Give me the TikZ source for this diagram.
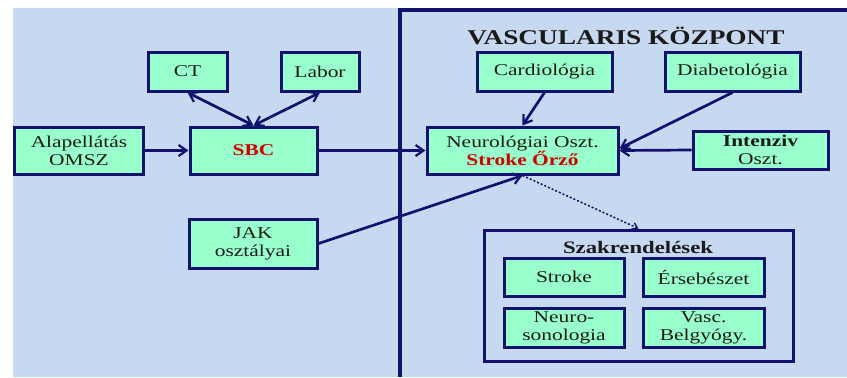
\documentclass[tikz,border=0pt]{standalone}
\usepackage{fontspec}
\setmainfont{Liberation Serif}[FakeStretch=1.3]
\usetikzlibrary{arrows.meta}
\definecolor{bgblue}{HTML}{C6D9F1}
\definecolor{mint}{HTML}{99FFCC}
\definecolor{navy}{RGB}{18,18,110}
\definecolor{txtred}{HTML}{D00000}
\definecolor{txt}{HTML}{1A1A1A}
\begin{document}
\begin{tikzpicture}[x=1bp,y=-1bp,
  box/.style={draw=navy,line width=3bp,fill=mint,inner sep=0pt,align=center,
    text=txt,font=\fontsize{16.5bp}{18bp}\selectfont},
  conn/.style={draw=navy,line width=2.7bp,-{Straight Barb[length=8bp,width=11bp,line width=2.2bp]}},
  bconn/.style={draw=navy,line width=2.7bp,{Straight Barb[length=8bp,width=11bp,line width=2.2bp]}-{Straight Barb[length=8bp,width=11bp,line width=2.2bp]}},
  dconn/.style={draw=navy,line width=1.5bp,dash pattern=on 2bp off 2bp,-{Straight Barb[length=5bp,width=7bp,line width=1.3bp]}}
]
\useasboundingbox (0,0) rectangle (847,377);
\fill[bgblue] (13,8) rectangle (847,377);
\draw[navy,line width=3.2bp] (400,377) -- (400,10) -- (847,10);

\node[font=\fontsize{21bp}{23bp}\selectfont\bfseries,text=txt] (title) at (626,36) {VASCULARIS KÖZPONT};

\node[box,minimum width=79bp,minimum height=39bp] (CT) at (187.5,71.5) {CT};
\node[box,minimum width=78bp,minimum height=39bp] (Labor) at (320,71.5) {Labor};
\node[box,minimum width=128bp,minimum height=47bp] (Alap) at (79,150.5) {Alapellátás\\OMSZ};
\node[box,minimum width=127bp,minimum height=47bp,text=txtred,font=\fontsize{16.5bp}{18bp}\selectfont\bfseries] (SBC) at (253.5,150.5) {SBC};
\node[box,minimum width=128bp,minimum height=49bp] (JAK) at (253,243.5) {JAK\\osztályai};
\node[box,minimum width=135bp,minimum height=39bp] (Cardio) at (544.5,71.5) {Cardiológia};
\node[box,minimum width=135bp,minimum height=39bp] (Diab) at (732.5,71.5) {Diabetológia};
\node[box,minimum width=191bp,minimum height=47bp] (Neuro) at (522.5,150.5) {Neurológiai Oszt.\\\textcolor{txtred}{\bfseries Stroke Őrző}};
\node[box,minimum width=135bp,minimum height=38bp] (Int) at (760.5,150) {\bfseries Intenziv\\Oszt.};

\node[draw=navy,line width=3bp,minimum width=309bp,minimum height=131bp,inner sep=0pt] (Szak) at (638.5,295.5) {};
\node[font=\fontsize{17.5bp}{19bp}\selectfont\bfseries,text=txt] (SzakT) at (638,247) {Szakrendelések};
\node[box,minimum width=120bp,minimum height=38bp] (Stroke) at (564,277) {Stroke};
\node[box,minimum width=121bp,minimum height=38bp] (Ers) at (703.5,277) {Érsebészet};
\node[box,minimum width=120bp,minimum height=39bp] (Sono) at (564,327.5) {Neuro-\\sonologia};
\node[box,minimum width=121bp,minimum height=39bp] (Vasc) at (703.5,327.5) {Vasc.\\Belgyógy.};

\draw[bconn] (CT.south) -- (SBC.north);
\draw[bconn] (Labor.south) -- (SBC.north);
\draw[conn] (Alap.east) -- (SBC.west);
\draw[conn] (SBC.east) -- (Neuro.west);
\draw[conn] (Cardio.south) -- (Neuro.north);
\draw[conn] (Diab.south) -- ([yshift=2bp]Neuro.east);
\draw[conn] (Int.west) -- (Neuro.east);
\draw[conn] (JAK.east) -- (Neuro.south);
\draw[dconn] (Neuro.south) -- (Szak.north);
\end{tikzpicture}
\end{document}
